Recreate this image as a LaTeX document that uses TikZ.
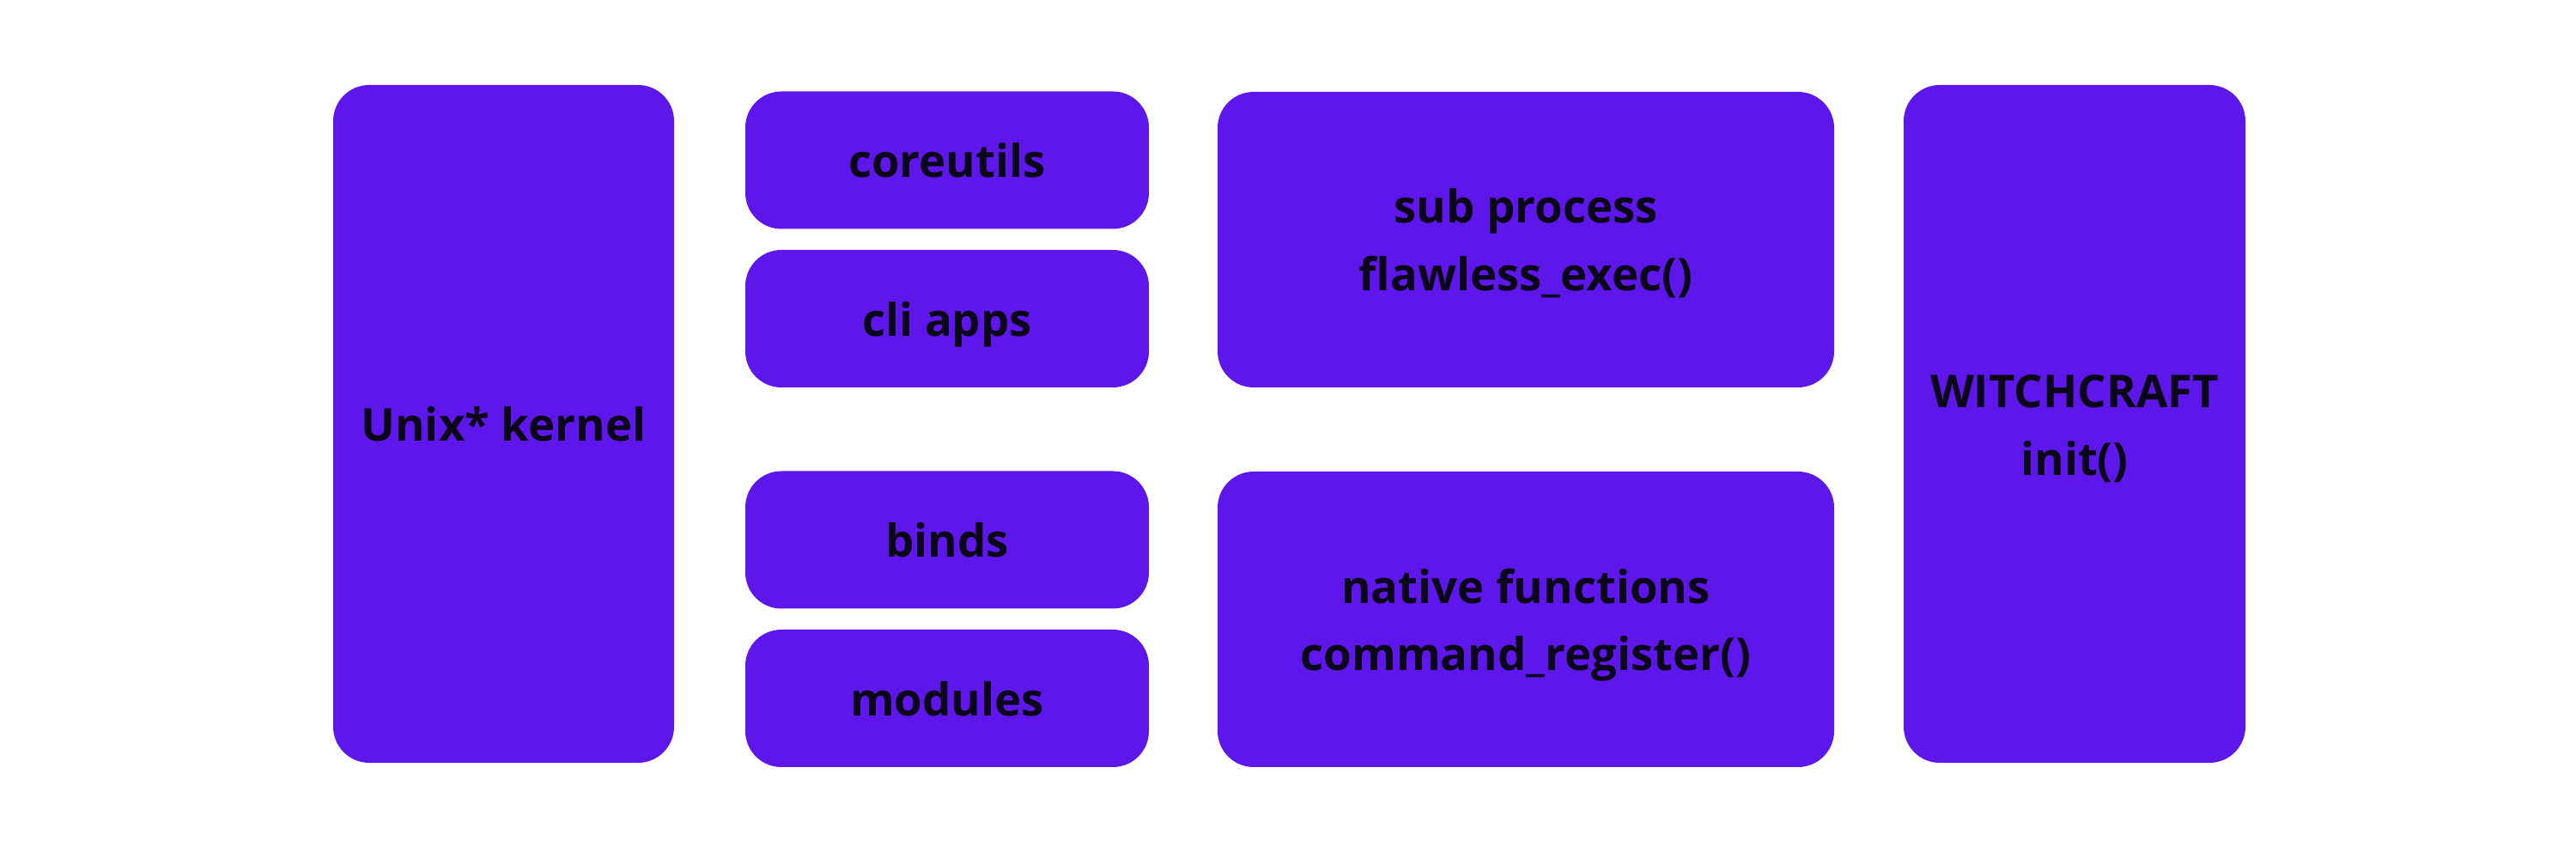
\documentclass[tikz,border=0pt]{standalone}
\usepackage{fontspec}
\setmainfont{Open Sans}
\usetikzlibrary{positioning}
\definecolor{blockpurple}{HTML}{5E17EB}
\definecolor{blocktext}{HTML}{0B0718}
\tikzset{
  block/.style={rectangle,rounded corners=0.42cm,fill=blockpurple,draw=none,
    inner sep=0pt,align=center,text=blocktext,text height=16pt,text depth=4.4pt,
    font=\fontsize{15}{22.4}\selectfont\bfseries},
  twoline/.style={block,text height=38.4pt}
}
\begin{document}
\begin{tikzpicture}
\useasboundingbox[fill=white] (0,0) rectangle (30,10);
\node[block,minimum width=3.97cm,minimum height=7.89cm] (kernel) at (5.865,5.065) {Unix* kernel};
\node[block,minimum width=4.70cm,minimum height=1.60cm] (coreutils) at (11.03,8.135) {coreutils};
\node[block,minimum width=4.70cm,minimum height=1.60cm] (cliapps) at (11.03,6.29) {cli apps};
\node[block,minimum width=4.70cm,minimum height=1.60cm] (binds) at (11.03,3.715) {binds};
\node[block,minimum width=4.70cm,minimum height=1.60cm] (modules) at (11.03,1.87) {modules};
\node[twoline,minimum width=7.18cm,minimum height=3.44cm] (subproc) at (17.77,7.21) {sub process\\flawless\_exec()};
\node[twoline,minimum width=7.18cm,minimum height=3.44cm] (native) at (17.77,2.79) {native functions\\command\_register()};
\node[twoline,minimum width=3.98cm,minimum height=7.89cm] (witchcraft) at (24.16,5.065) {WITCHCRAFT\\init()};
\end{tikzpicture}
\end{document}
